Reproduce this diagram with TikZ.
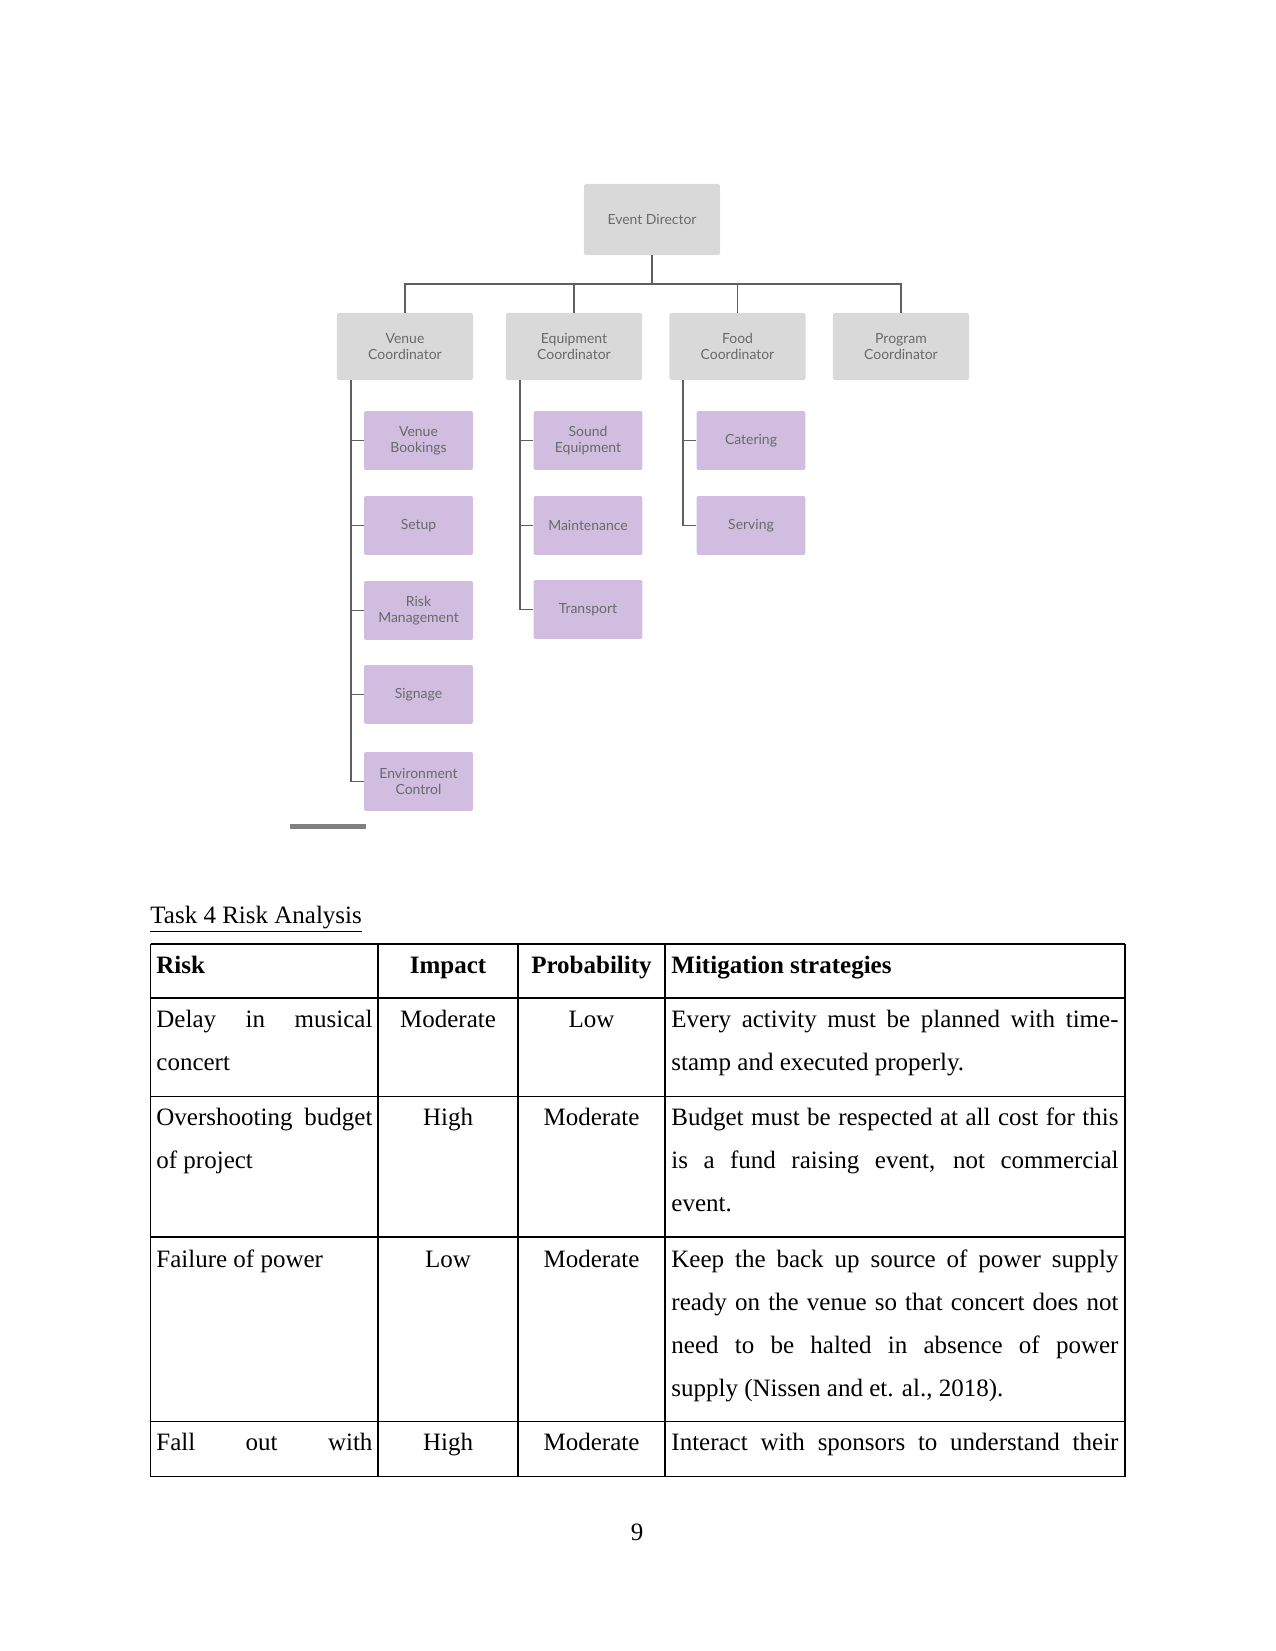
\documentclass[tikz,border=0pt]{standalone}
\usepackage{fontspec}
\setmainfont{Liberation Serif}
\newfontfamily\orgfont{Lato}
\definecolor{boxgrey}{RGB}{217,217,217}
\definecolor{boxpurple}{RGB}{208,189,224}
\definecolor{orgtext}{RGB}{105,105,105}
\definecolor{linegrey}{RGB}{95,95,95}
\tikzset{
  orgbase/.style={rectangle, rounded corners=1pt, align=center, inner sep=1pt,
    font=\orgfont\fontsize{6.7}{7.7}\selectfont, text=orgtext},
  topbox/.style={orgbase, fill=boxgrey, minimum width=65.3pt, minimum height=34.1pt},
  coordbox/.style={orgbase, fill=boxgrey, minimum width=65.3pt, minimum height=32.2pt},
  childbox/.style={orgbase, fill=boxpurple, minimum width=52.3pt, minimum height=28.3pt},
  link/.style={draw=linegrey, line width=0.8pt},
  cell/.style={anchor=base west, inner sep=0pt, font=\fontsize{12}{14}\selectfont},
  cellc/.style={anchor=base, inner sep=0pt, font=\fontsize{12}{14}\selectfont},
  rule/.style={draw=black, line width=0.7pt}
}
\newcommand{\jrisk}[1]{\makebox[103.7pt][s]{#1}}
\newcommand{\jmit}[1]{\makebox[214.6pt][s]{#1}}
\begin{document}
\begin{tikzpicture}[x=0.48pt, y=-0.48pt]
\useasboundingbox (0,0) rectangle (1275,1651);
% ---------------- org chart ----------------
\node[topbox] (ed) at (652,219.5) {Event Director};
\node[coordbox] (vc) at (405,346.5) {Venue\\Coordinator};
\node[coordbox] (ec) at (574,346.5) {Equipment\\Coordinator};
\node[coordbox] (fc) at (737.5,346.5) {Food\\Coordinator};
\node[coordbox] (pc) at (901,346.5) {Program\\Coordinator};

\node[childbox] (v1) at (418.5,440.5) {Venue\\Bookings};
\node[childbox] (v2) at (418.5,525.5) {Setup};
\node[childbox] (v3) at (418.5,610.5) {Risk\\Management};
\node[childbox] (v4) at (418.5,694.5) {Signage};
\node[childbox] (v5) at (418.5,781.5) {Environment\\Control};

\node[childbox] (e1) at (588,440.5) {Sound\\Equipment};
\node[childbox] (e2) at (588,525.5) {Maintenance};
\node[childbox] (e3) at (588,609.5) {Transport};

\node[childbox] (f1) at (751,440.5) {Catering};
\node[childbox] (f2) at (751,525.5) {Serving};

\coordinate (bus) at (652,284);
\draw[link] (ed.south) -- (bus);
\draw[link] (vc.north) |- (bus) -| (pc.north);
\draw[link] (ec.north) -- (ec.north |- bus);
\draw[link] (fc.north) -- (fc.north |- bus);

\coordinate (vt) at (351,380);
\coordinate (et) at (520,380);
\coordinate (ft) at (683,380);
\foreach \c in {v1,v2,v3,v4,v5} {\draw[link] (vt) |- (\c.west);}
\foreach \c in {e1,e2,e3} {\draw[link] (et) |- (\c.west);}
\foreach \c in {f1,f2} {\draw[link] (ft) |- (\c.west);}

\fill[black!50] (290,824) rectangle (366,829);

% ---------------- title ----------------
\node[cell] (title) at (150,923) {\underline{Task 4 Risk Analysis}};

% ---------------- table rules ----------------
\draw[rule] (150.5,944) -- (1125,944);
\draw[rule] (150.5,998) -- (1125,998);
\draw[rule] (150.5,1096.5) -- (1125,1096.5);
\draw[rule] (150.5,1237) -- (1125,1237);
\draw[rule] (150.5,1421.5) -- (1125,1421.5);
\draw[rule] (150.5,1476.5) -- (1125,1476.5);
\foreach \xx in {150.5,378,518,665,1125} {\draw[rule] (\xx,944) -- (\xx,1476.5);}

% ---------------- header ----------------
\node[cell] (h1) at (156,973) {\textbf{Risk}};
\node[cellc] (h2) at (448,973) {\textbf{Impact}};
\node[cellc] (h3) at (591.5,973) {\textbf{Probability}};
\node[cell] (h4) at (671,973) {\textbf{Mitigation strategies}};

% ---------------- row 1 ----------------
\node[cell] (r1a) at (156,1027) {\jrisk{Delay in musical}};
\node[cell] (r1b) at (156,1070) {concert};
\node[cellc] (r1c) at (448,1027) {Moderate};
\node[cellc] (r1d) at (591.5,1027) {Low};
\node[cell] (r1e) at (671,1027) {\jmit{Every activity must be planned with time-}};
\node[cell] (r1f) at (671,1070) {stamp and executed properly.};

% ---------------- row 2 ----------------
\node[cell] (r2a) at (156,1125) {\jrisk{Overshooting budget}};
\node[cell] (r2b) at (156,1168) {of project};
\node[cellc] (r2c) at (448,1125) {High};
\node[cellc] (r2d) at (591.5,1125) {Moderate};
\node[cell] (r2e) at (671,1125) {\jmit{Budget must be respected at all cost for this}};
\node[cell] (r2f) at (671,1168) {\jmit{is a fund raising event, not commercial}};
\node[cell] (r2g) at (671,1211) {event.};

% ---------------- row 3 ----------------
\node[cell] (r3a) at (156,1267) {Failure of power};
\node[cellc] (r3c) at (448,1267) {Low};
\node[cellc] (r3d) at (591.5,1267) {Moderate};
\node[cell] (r3e) at (671,1267) {\jmit{Keep the back up source of power supply}};
\node[cell] (r3f) at (671,1310) {\jmit{ready on the venue so that concert does not}};
\node[cell] (r3g) at (671,1353) {\jmit{need to be halted in absence of power}};
\node[cell] (r3h) at (671,1396) {supply (Nissen and et. al., 2018).};

% ---------------- row 4 ----------------
\node[cell] (r4a) at (156,1450) {\jrisk{Fall out with}};
\node[cellc] (r4c) at (448,1450) {High};
\node[cellc] (r4d) at (591.5,1450) {Moderate};
\node[cell] (r4e) at (671,1450) {\jmit{Interact with sponsors to understand their}};

% ---------------- page number ----------------
\node[cellc] (pg) at (637,1540) {9};
\end{tikzpicture}
\end{document}
